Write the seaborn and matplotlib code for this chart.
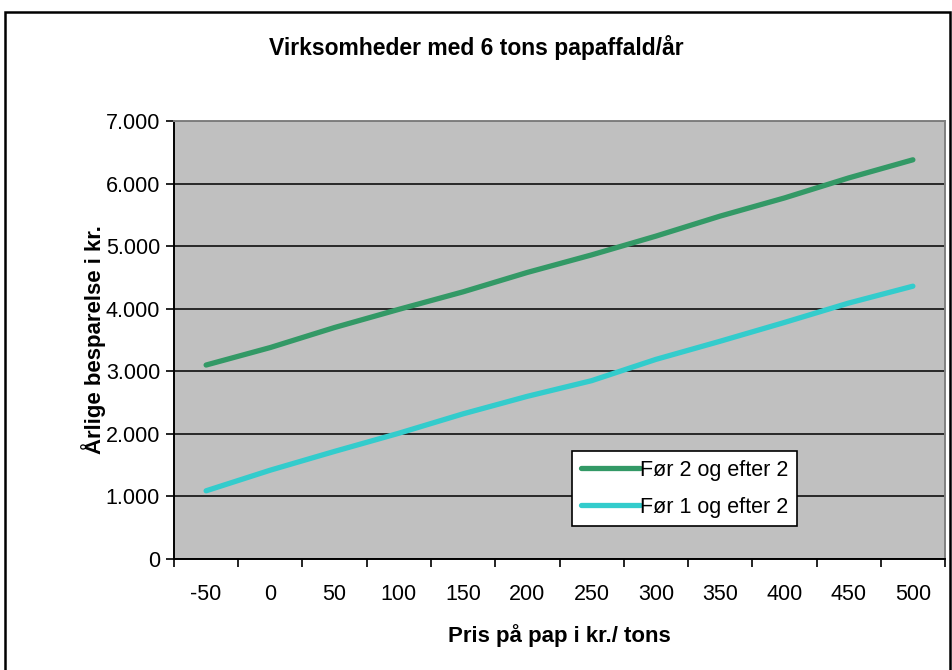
import pandas as pd
import matplotlib
matplotlib.use("Agg")
import matplotlib.pyplot as plt
import matplotlib.patches as patches
import seaborn as sns

# data
prices = [-50, 0, 50, 100, 150, 200, 250, 300, 350, 400, 450, 500]
foer2_efter2 = [3100, 3380, 3700, 3990, 4270, 4580, 4860, 5160, 5480, 5770, 6090, 6380]
foer1_efter2 = [1090, 1420, 1720, 2010, 2320, 2600, 2850, 3190, 3480, 3780, 4090, 4360]
series_names = ["Før 2 og efter 2", "Før 1 og efter 2"]
series_colors = ["#339966", "#33CCCC"]
y_ticks = [0, 1000, 2000, 3000, 4000, 5000, 6000, 7000]

df = pd.DataFrame({
    "pris": prices * 2,
    "besparelse": foer2_efter2 + foer1_efter2,
    "serie": [series_names[0]] * len(prices) + [series_names[1]] * len(prices),
})

sns.set_style("white")
plt.rcParams["font.family"] = ["Liberation Sans", "DejaVu Sans"]
plt.rcParams["text.color"] = "black"
plt.rcParams["axes.labelcolor"] = "black"
plt.rcParams["xtick.color"] = "black"
plt.rcParams["ytick.color"] = "black"

fig = plt.figure(figsize=(9.53, 6.70), dpi=100)
ax = fig.add_axes([174 / 953, 111 / 670, 771 / 953, 438 / 670])
ax.set_facecolor("#C0C0C0")

sns.lineplot(data=df, x="pris", y="besparelse", hue="serie",
             palette=series_colors, linewidth=3.8, ax=ax,
             solid_capstyle="round")

ax.set_xlim(-75, 525)
ax.set_ylim(0, 7000)

# category axis: tick marks at boundaries, labels in the middle
ax.set_xticks([p - 25 for p in prices] + [525])
ax.set_xticklabels([])
ax.set_xticks(prices, minor=True)
ax.set_xticklabels([str(p) for p in prices], minor=True, fontsize=15.5)
ax.tick_params(axis="x", which="major", direction="out", length=6, width=1.2, color="black", bottom=True)
ax.tick_params(axis="x", which="minor", length=0, pad=18)

ax.set_yticks(y_ticks)
ax.set_yticklabels([f"{v:,}".replace(",", ".") for v in y_ticks], fontsize=15.5)
ax.tick_params(axis="y", direction="out", length=6, width=1.2, color="black", left=True, pad=4)

ax.grid(axis="y", color="black", linewidth=1.1)
ax.set_axisbelow(True)

for side in ["left", "bottom"]:
    ax.spines[side].set_color("black")
    ax.spines[side].set_linewidth(1.4)
for side in ["top", "right"]:
    ax.spines[side].set_color("#808080")
    ax.spines[side].set_linewidth(1.4)

ax.set_xlabel("Pris på pap i kr./ tons", fontsize=16, fontweight="bold", labelpad=14)
ax.set_ylabel("Årlige besparelse i kr.", fontsize=16, fontweight="bold", labelpad=0)

fig.text(0.5, 1 - 47 / 670, "Virksomheder med 6 tons papaffald/år",
         ha="center", va="center", fontsize=16.5, fontweight="bold")

leg = ax.legend(loc="upper left", bbox_to_anchor=(572 / 953, 1 - 451 / 670),
                bbox_transform=fig.transFigure, fontsize=15.5, frameon=True,
                fancybox=False, handlelength=2.75, handletextpad=0.0,
                borderpad=0.4, labelspacing=0.75, borderaxespad=0)
leg.get_frame().set_edgecolor("black")
leg.get_frame().set_linewidth(1.2)
leg.get_frame().set_facecolor("white")
leg.get_frame().set_alpha(1)

# chart border
fig.patches.append(patches.Rectangle((5 / 953, -0.01), 945 / 953, 1 - 12 / 670 + 0.01,
                                     transform=fig.transFigure, fill=False,
                                     edgecolor="black", linewidth=1.8))

fig.savefig("out.png", dpi=100)
